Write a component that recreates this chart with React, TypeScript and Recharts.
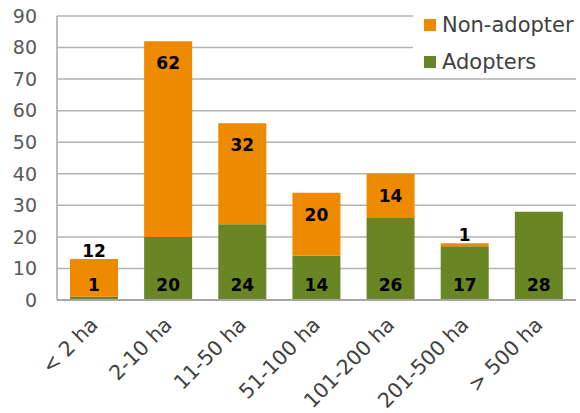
import React from "react";
import { BarChart, Bar, XAxis, YAxis, CartesianGrid } from "recharts";

const categories = ["< 2 ha", "2-10 ha", "11-50 ha", "51-100 ha", "101-200 ha", "201-500 ha", "> 500 ha"];
const adopters = [1, 20, 24, 14, 26, 17, 28];
const nonAdopters = [12, 62, 32, 20, 14, 1, 0];
const yTicks = [0, 10, 20, 30, 40, 50, 60, 70, 80, 90];

const data = categories.map((c, i) => ({ name: c, adopters: adopters[i], nonAdopters: nonAdopters[i] }));

const FONT = "'DejaVu Sans', sans-serif";
const GREEN = "#6A8523";
const ORANGE = "#EE8A00";

const AdopterLabel = (props: any) => {
  const { x, y, width, height, index } = props;
  const v = adopters[index];
  if (!v) return null;
  return (
    <text x={x + width / 2} y={y + height - 15} textAnchor="middle" dominantBaseline="central"
      fontFamily={FONT} fontSize={17} fontWeight="bold" fill="#000">{v}</text>
  );
};

const NonAdopterLabel = (props: any) => {
  const { x, y, width, height, index } = props;
  const v = nonAdopters[index];
  if (!v) return null;
  const ly = height >= 40 ? y + 22 : y - 8;
  return (
    <text x={x + width / 2} y={ly} textAnchor="middle" dominantBaseline="central"
      fontFamily={FONT} fontSize={17} fontWeight="bold" fill="#000">{v}</text>
  );
};

const XTick = (props: any) => {
  const { x, y, payload } = props;
  return (
    <g transform={`translate(${x + 5},${y + 18})`}>
      <text x={0} y={0} textAnchor="end" transform="rotate(-45)" fontFamily={FONT} fontSize={20.5} fill="#404040">
        {payload.value}
      </text>
    </g>
  );
};

const LegendBox = () => (
  <div style={{ position: "absolute", left: 413, top: 0, background: "#fff", width: 165, height: 78, fontFamily: FONT, fontSize: 21, color: "#404040" }}>
    <div style={{ display: "flex", alignItems: "center", height: 37, marginTop: 6 }}>
      <span style={{ display: "inline-block", width: 12, height: 12, background: ORANGE, marginLeft: 11, marginRight: 6 }} />
      <span>Non-adopter</span>
    </div>
    <div style={{ display: "flex", alignItems: "center", height: 37 }}>
      <span style={{ display: "inline-block", width: 12, height: 12, background: GREEN, marginLeft: 11, marginRight: 6 }} />
      <span>Adopters</span>
    </div>
  </div>
);

export default function App() {
  return (
    <div style={{ position: "absolute", left: 0, top: 0, width: 580, height: 413, background: "#fff", overflow: "hidden" }}>
      <BarChart width={580} height={413} data={data} margin={{ top: 16, right: 4, left: 0, bottom: 0 }}>
        <CartesianGrid vertical={false} stroke="#B3B3B3" strokeWidth={1.5} />
        <XAxis dataKey="name" height={113} tickLine={false} axisLine={{ stroke: "#A6A6A6", strokeWidth: 2 }}
          tick={<XTick />} interval={0} />
        <YAxis width={57} domain={[0, 90]} ticks={yTicks} tickLine={false} axisLine={{ stroke: "#A6A6A6", strokeWidth: 1.5 }}
          tick={{ fontFamily: FONT, fontSize: 19, fill: "#595959" }} tickMargin={14} interval={0} />
        <Bar dataKey="adopters" stackId="a" fill={GREEN} barSize={48} isAnimationActive={false}
          label={<AdopterLabel />} />
        <Bar dataKey="nonAdopters" stackId="a" fill={ORANGE} barSize={48} isAnimationActive={false}
          label={<NonAdopterLabel />} />
      </BarChart>
      <LegendBox />
    </div>
  );
}
